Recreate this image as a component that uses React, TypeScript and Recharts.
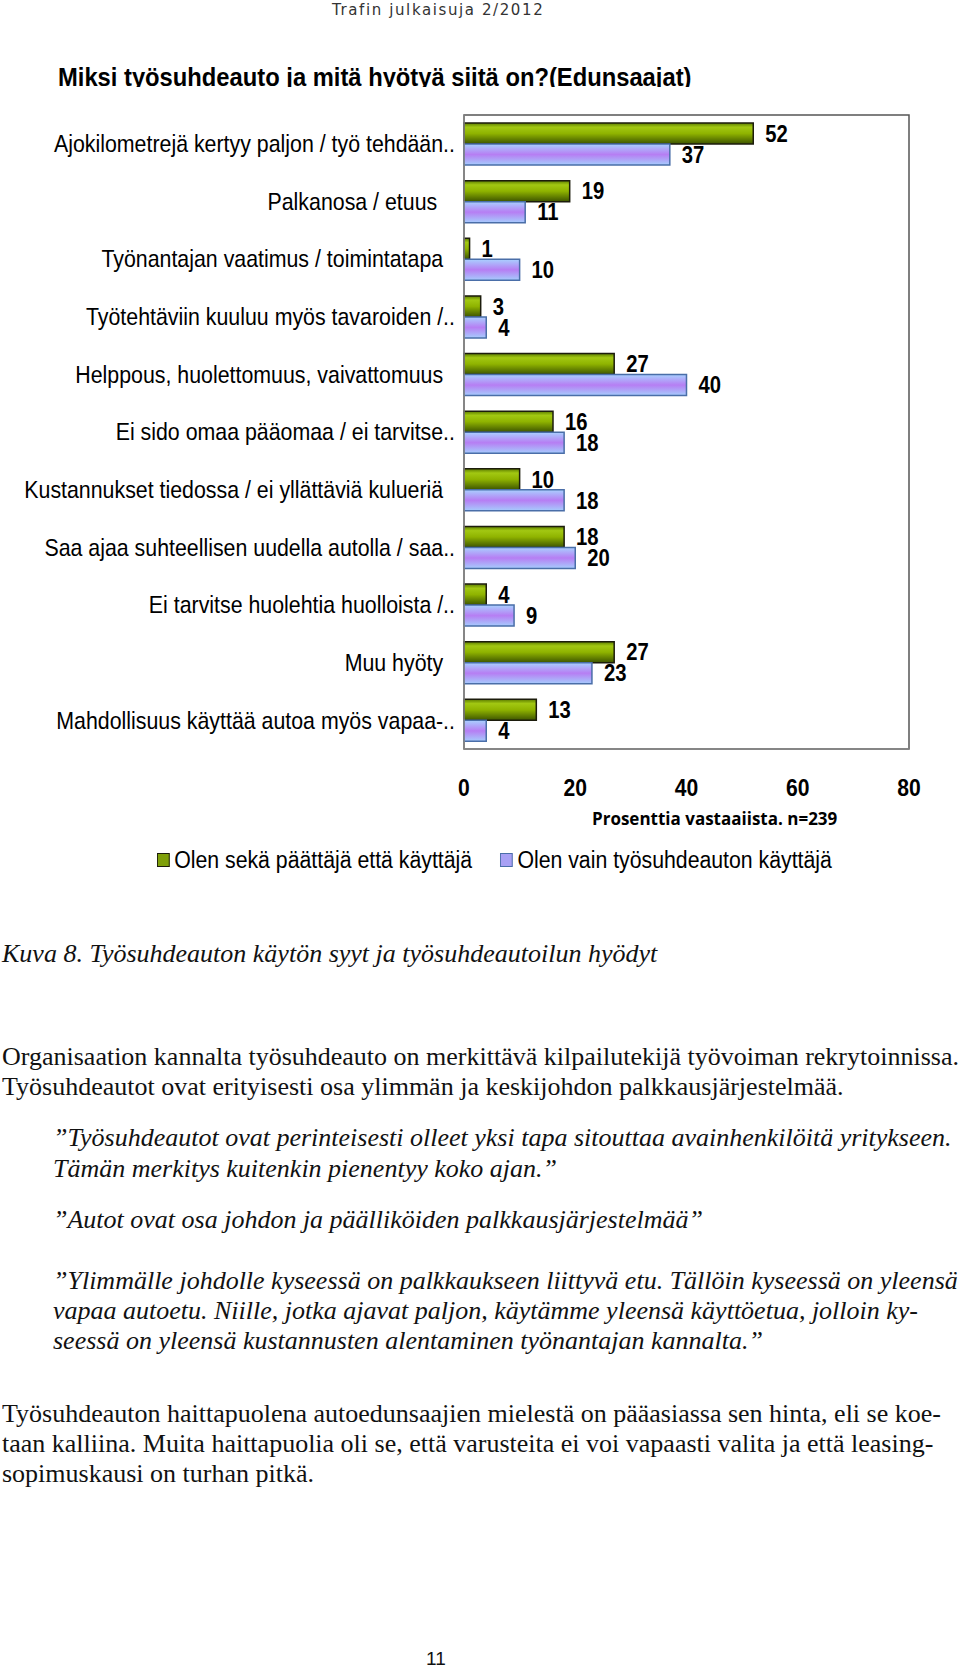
import { Bar, BarChart, LabelList, ReferenceArea, XAxis, YAxis } from "recharts";

const CATEGORIES = [
  "Ajokilometrejä kertyy paljon / työ tehdään..",
  "Palkanosa / etuus\u00a0\u00a0\u00a0",
  "Työnantajan vaatimus / toimintatapa\u00a0\u00a0",
  "Työtehtäviin kuuluu myös tavaroiden /..",
  "Helppous, huolettomuus, vaivattomuus\u00a0\u00a0",
  "Ei sido omaa pääomaa / ei tarvitse..",
  "Kustannukset tiedossa / ei yllättäviä kulueriä\u00a0\u00a0",
  "Saa ajaa suhteellisen uudella autolla / saa..",
  "Ei tarvitse huolehtia huolloista /..",
  "Muu hyöty\u00a0\u00a0",
  "Mahdollisuus käyttää autoa myös vapaa-..",
];
const BOTH = [52, 19, 1, 3, 27, 16, 10, 18, 4, 27, 13];
const USER_ONLY = [37, 11, 10, 4, 40, 18, 18, 20, 9, 23, 4];
const X_TICKS = [0, 20, 40, 60, 80];
const SERIES = [
  { key: "both", name: "Olen sekä päättäjä että käyttäjä", fill: "url(#gGreen)", stroke: "#1c1c0c", swatch: "#7fa00a" },
  { key: "user", name: "Olen vain työsuhdeauton käyttäjä", fill: "url(#gPurple)", stroke: "#4a6ea8", swatch: "#a8a0f4" },
];

const chartData = CATEGORIES.map((name, i) => ({ name, both: BOTH[i], user: USER_ONLY[i] }));

const SANS = "'Liberation Sans', Arial, sans-serif";
const SERIF = "'Liberation Serif', 'Times New Roman', serif";

// squeeze text horizontally around its anchor point, like a narrow font
const squeeze = (x: number, y: number, k: number) => `translate(${x} ${y}) scale(${k} 1) translate(${-x} ${-y})`;

function CategoryTick({ x, y, payload }: any) {
  return (
    <text x={x} y={y} dy="0.35em" textAnchor="end" fill="#000" fontFamily={SANS} fontSize={24} transform={squeeze(x, y, 0.89)}>
      {payload.value}
    </text>
  );
}

function ValueTick({ x, y, payload }: any) {
  return (
    <text x={x} y={y} dy="0.71em" textAnchor="middle" fill="#000" fontFamily={SANS} fontWeight="bold" fontSize={24} transform={squeeze(x, y, 0.88)}>
      {payload.value}
    </text>
  );
}

function BarValue({ x, y, width, height, value }: any) {
  const lx = x + width + 12;
  const ly = y + height / 2;
  return (
    <text x={lx} y={ly} dy="0.36em" textAnchor="start" fill="#000" fontFamily={SANS} fontWeight="bold" fontSize={23} transform={squeeze(lx, ly, 0.88)}>
      {value}
    </text>
  );
}

const line = (top: number, left: number, text: string, italic = false) => (
  <div
    key={top}
    style={{
      position: "absolute",
      top,
      left,
      whiteSpace: "nowrap",
      fontFamily: SERIF,
      fontSize: 25,
      lineHeight: "30px",
      fontStyle: italic ? "italic" : "normal",
      color: "#111",
      transform: "scaleX(1.04)",
      transformOrigin: "left center",
    }}
  >
    {text}
  </div>
);

export default function App() {
  return (
    <div style={{ position: "absolute", top: 0, left: 0, width: 960, height: 1670, background: "#fff", overflow: "hidden" }}>
      <div style={{ position: "absolute", top: 0, left: 332, fontFamily: "'DejaVu Sans', sans-serif", fontSize: 15, letterSpacing: 1.6, color: "#333", lineHeight: "20px" }}>
        Trafin julkaisuja 2/2012
      </div>
      <div style={{ position: "absolute", top: 60, left: 58, height: 27, overflow: "hidden", fontFamily: SANS, fontWeight: "bold", fontSize: 25, lineHeight: "34px", color: "#000", whiteSpace: "nowrap", transform: "scaleX(0.95)", transformOrigin: "left top" }}>
        Miksi työsuhdeauto ja mitä hyötyä siitä on?(Edunsaajat)
      </div>

      <div style={{ position: "absolute", top: 100, left: 0 }}>
        <BarChart
          width={929}
          height={709}
          data={chartData}
          layout="vertical"
          barSize={21}
          barGap={0}
          margin={{ top: 15, right: 20, bottom: 0, left: 0 }}
        >
          <defs>
            <linearGradient id="gGreen" x1="0" y1="0" x2="0" y2="1">
              <stop offset="0" stopColor="#5d7d00" />
              <stop offset="0.2" stopColor="#a2c812" />
              <stop offset="0.5" stopColor="#8fb300" />
              <stop offset="1" stopColor="#3d5400" />
            </linearGradient>
            <linearGradient id="gPurple" x1="0" y1="0" x2="0" y2="1">
              <stop offset="0" stopColor="#a9d0ff" />
              <stop offset="0.5" stopColor="#b67ef3" />
              <stop offset="1" stopColor="#a6ccfd" />
            </linearGradient>
          </defs>
          <ReferenceArea x1={0} x2={80} fill="none" stroke="#555" strokeWidth={1.5} />
          <XAxis
            type="number"
            domain={[0, 80]}
            ticks={X_TICKS}
            tickSize={0}
            tickMargin={30}
            height={60}
            axisLine={{ stroke: "#888", strokeWidth: 1.5 }}
            tick={<ValueTick />}
          />
          <YAxis
            type="category"
            dataKey="name"
            width={464}
            tickSize={0}
            tickMargin={9}
            interval={0}
            axisLine={{ stroke: "#888", strokeWidth: 1.5 }}
            tick={<CategoryTick />}
          />
          {SERIES.map((s) => (
            <Bar key={s.key} dataKey={s.key} name={s.name} fill={s.fill} stroke={s.stroke} strokeWidth={1.5} isAnimationActive={false}>
              <LabelList dataKey={s.key} content={<BarValue />} />
            </Bar>
          ))}
        </BarChart>
      </div>

      <div style={{ position: "absolute", top: 807, left: 592, fontFamily: "'Open Sans', sans-serif", fontWeight: "bold", fontSize: 17, lineHeight: "23px", color: "#000", whiteSpace: "nowrap" }}>
        Prosenttia vastaaiista. n=239
      </div>
      <div style={{ position: "absolute", top: 846, left: 157, display: "flex", gap: 31, fontFamily: SANS, fontSize: 23.5, lineHeight: "28px", color: "#000", whiteSpace: "nowrap", transform: "scaleX(0.905)", transformOrigin: "left center" }}>
        {SERIES.map((s) => (
          <div key={s.key} style={{ display: "flex", alignItems: "center", gap: 5 }}>
            <span style={{ width: 12, height: 12, background: s.swatch, border: `1.5px solid ${s.stroke}` }} />
            {s.name}
          </div>
        ))}
      </div>

      {line(939, 2, "Kuva 8. Työsuhdeauton käytön syyt ja työsuhdeautoilun hyödyt", true)}
      {line(1042, 2, "Organisaation kannalta työsuhdeauto on merkittävä kilpailutekijä työvoiman rekrytoinnissa.")}
      {line(1072, 2, "Työsuhdeautot ovat erityisesti osa ylimmän ja keskijohdon palkkausjärjestelmää.")}
      {line(1123, 53, "”Työsuhdeautot ovat perinteisesti olleet yksi tapa sitouttaa avainhenkilöitä yritykseen.", true)}
      {line(1154, 53, "Tämän merkitys kuitenkin pienentyy koko ajan.”", true)}
      {line(1205, 53, "”Autot ovat osa johdon ja päälliköiden palkkausjärjestelmää”", true)}
      {line(1266, 53, "”Ylimmälle johdolle kyseessä on palkkaukseen liittyvä etu. Tällöin kyseessä on yleensä", true)}
      {line(1296, 53, "vapaa autoetu. Niille, jotka ajavat paljon, käytämme yleensä käyttöetua, jolloin ky-", true)}
      {line(1326, 53, "seessä on yleensä kustannusten alentaminen työnantajan kannalta.”", true)}
      {line(1399, 2, "Työsuhdeauton haittapuolena autoedunsaajien mielestä on pääasiassa sen hinta, eli se koe-")}
      {line(1429, 2, "taan kalliina. Muita haittapuolia oli se, että varusteita ei voi vapaasti valita ja että leasing-")}
      {line(1459, 2, "sopimuskausi on turhan pitkä.")}

      <div style={{ position: "absolute", top: 1648, left: 426, fontFamily: SANS, fontSize: 19, lineHeight: "22px", color: "#111" }}>
        11
      </div>
    </div>
  );
}
